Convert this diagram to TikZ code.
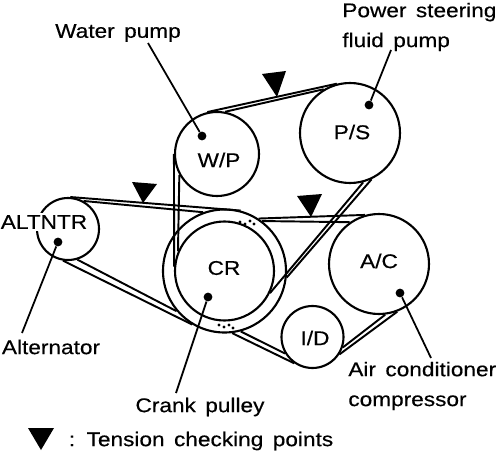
\documentclass[tikz,border=0pt]{standalone}
\usepackage{fontspec}
\setmainfont[WordSpace=1.5, FakeStretch=1.14, FakeBold=0.4]{Liberation Sans}
\usetikzlibrary{calc}

\tikzset{
  pulley/.style={circle, draw, line width=1.2pt, inner sep=0pt, minimum size=#1*0.02cm},
  pindot/.style={circle, fill, inner sep=0pt, minimum size=5pt},
  tag/.style={font=\fontsize{11.3}{13}\selectfont, inner sep=0pt, align=left},
  belt/.style={line width=1.1pt},
  leader/.style={line width=1pt},
}

\begin{document}
\begin{tikzpicture}[x=0.02cm, y=-0.02cm]
  \useasboundingbox (0,0) rectangle (500,456);

  % Pulleys
  \node[pulley=84] (wp) at (217,154) {};
  \node[pulley=100] (ps) at (350,133) {};
  \node[pulley=62] (altntr) at (68,229) {};
  \node[pulley=99] (cr) at (224.5,271) {};
  \node[pulley=123] (crouter) at (224.5,271) {};
  \node[pulley=100] (ac) at (379,264) {};
  \node[pulley=62] (id) at (312.5,337) {};

  % Belt runs
  \draw[belt] (wp.103) -- (ps.105);
  \draw[belt] (wp.79) -- (ps.121);
  \draw[belt] (wp.180) -- (cr.175);
  \draw[belt] (wp.209) -- (cr.157);
  \draw[belt] (altntr.86) -- (crouter.75);
  \draw[belt] (altntr.61) -- (crouter.110);
  \draw[belt] (altntr.261) -- (crouter.239);
  \draw[belt] (altntr.287) -- (crouter.220);
  \draw[belt] (crouter.285) -- (id.211);
  \draw[belt] (crouter.277) -- (id.235);
  \draw[belt] (id.341) -- (ac.277);
  \draw[belt] (id.327) -- (ac.291);
  \draw[belt] (crouter.57) -- (ac.106);
  \draw[belt] (crouter.53) -- (ac.125);
  \draw[belt] (ps.285) -- (cr.334);
  \draw[belt] (ps.295) -- (crouter.354);

  % Worn spots on the crank pulley
  \foreach \px/\py in {240/222, 245/224, 250/221, 254/224, 219/325, 224/327, 229/325, 233/328}
    \fill (\px,\py) circle (0.9pt);

  % Tension points
  \fill[line join=round] (262,74) -- (286,71) -- (277,97) -- cycle;
  \fill[line join=round] (297,196) -- (322,194) -- (311,217) -- cycle;
  \fill[line join=round] (132,182) -- (157,184) -- (143,203) -- cycle;
  \fill[line join=round] (28,428) -- (54,428) -- (41,450) -- cycle;

  % Pulley names
  \node[tag] (wpname) at (219,160) {W/P};
  \node[tag] (psname) at (352,132) {P/S};
  \node[tag, fill=white, inner sep=1pt] (altname) at (44,222) {ALTNTR};
  \node[tag] (crname) at (224,268) {CR};
  \node[tag] (acname) at (379,261) {A/C};
  \node[tag] (idname) at (315,338) {I/D};

  % Captions
  \node[tag] (wpcap) at (118,33) {Water pump};
  \node[tag, anchor=west] (pscap) at (342,27) {Power steering\\[4pt]fluid pump};
  \node[tag] (altcap) at (51,347) {Alternator};
  \node[tag] (crcap) at (200,407) {Crank pulley};
  \node[tag, anchor=west] (accap) at (348,386) {Air conditioner\\[4pt]compressor};
  \node[tag] (keycap) at (201,441) {: Tension checking points};

  % Leaders
  \node[pindot] (wpdot) at (202,136) {};
  \node[pindot] (psdot) at (369,105) {};
  \node[pindot] (altdot) at (58,242) {};
  \node[pindot] (crdot) at (208,297) {};
  \node[pindot] (acdot) at (400,293) {};
  \coordinate (wpend) at (148,43);
  \coordinate (psend) at (391,50);
  \coordinate (altend) at (22,333);
  \coordinate (crend) at (176,393);
  \coordinate (acend) at (431,358);
  \draw[leader] (wpdot) -- (wpend);
  \draw[leader] (psdot) -- (psend);
  \draw[leader] (altdot) -- (altend);
  \draw[leader] (crdot) -- (crend);
  \draw[leader] (acdot) -- (acend);
\end{tikzpicture}
\end{document}
